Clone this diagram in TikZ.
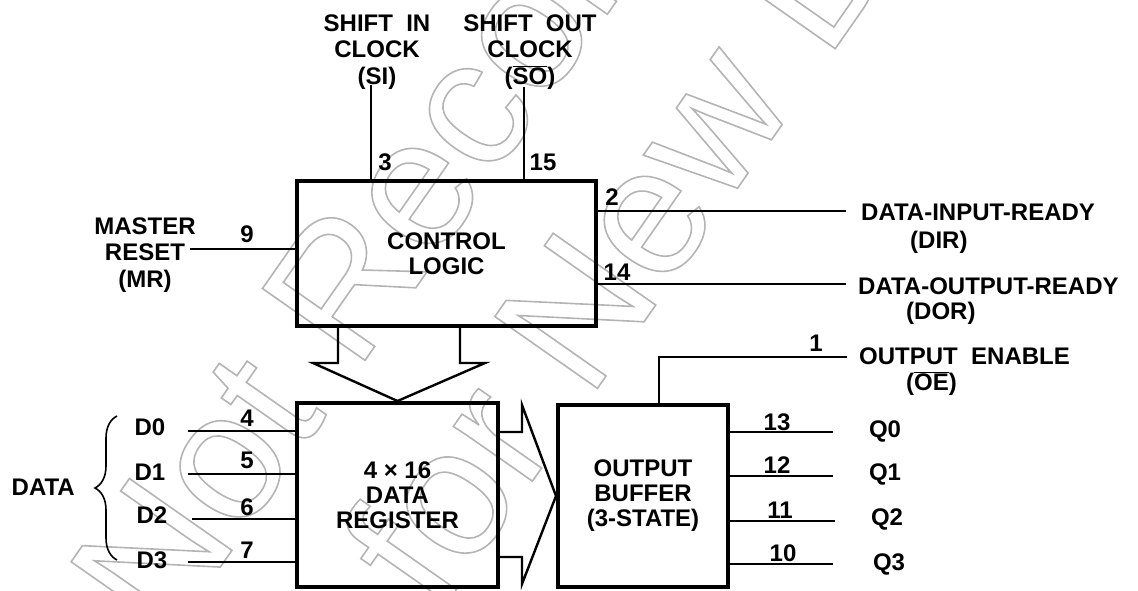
\documentclass[tikz,border=0pt]{standalone}
\usepackage{fontspec}
\setmainfont{Liberation Sans}
\newfontfamily\wmfont{Liberation Sans}
\usetikzlibrary{decorations.pathreplacing,calc}
\definecolor{wmgray}{RGB}{180,180,180}
\newcommand\lblsz{\fontsize{24}{26.5}\selectfont\bfseries}
\newcommand\boxsz{\fontsize{24}{25}\selectfont\bfseries}
\newcommand\wmsz{\wmfont\fontsize{182}{182}\selectfont}
\newcommand\ovl[1]{\ensuremath{\overline{\mbox{#1}}}}
\newcommand\outl[1]{\special{pdf:literal direct 1 Tr 1.6 w}#1\special{pdf:literal direct 0 Tr}}
\begin{document}
\begin{tikzpicture}[x=1pt,y=-1pt,
  box/.style={draw, line width=4pt, inner sep=0pt, align=center, font=\boxsz},
  lbl/.style={inner sep=0pt, align=center, font=\lblsz, anchor=north},
  one/.style={inner sep=0pt, font=\lblsz, text height=17.2pt, text depth=0pt},
  wire/.style={line width=1.8pt},
  fat/.style={line width=2.4pt, line join=miter},
  wm/.style={inner sep=0pt, rotate=55, anchor=base west, font=\wmsz, text=wmgray},
]
\useasboundingbox (0,0) rectangle (1138,590);

% watermark (outlined text)
\node[wm] (wm1) at (165,646) {\outl{Not Recommended}};
\node[wm] (wm2) at (438,616) {\outl{for New Design}};

% blocks
\node[box, minimum width=299pt, minimum height=145pt] (ctrl) at (446.5,253.5) {CONTROL\\LOGIC};
\node[box, minimum width=201pt, minimum height=184pt] (reg) at (397.5,495) {4 × 16\\DATA\\REGISTER};
\node[box, minimum width=170pt, minimum height=182pt] (buf) at (643,496) {OUTPUT\\BUFFER\\(3-STATE)};

% labels
\node[lbl] (si) at (377,14.4) {SHIFT\ \ IN\\CLOCK\\(SI)};
\node[lbl] (so) at (530,14.4) {SHIFT\ \ OUT\\CLOCK\\(\ovl{SO})};
\node[lbl] (mr) at (145,217.4) {MASTER\\RESET\\(MR)};
\node[one, anchor=west] (dir) at (861,212) {DATA-INPUT-READY};
\node[one, anchor=west] (dirb) at (910,240) {(DIR)};
\node[one, anchor=west] (dor) at (858,286) {DATA-OUTPUT-READY};
\node[one, anchor=west] (dorb) at (906,311) {(DOR)};
\node[one, anchor=west] (oe) at (859,356) {OUTPUT\ \ ENABLE};
\node[one, anchor=west] (oeb) at (906,382) {(\ovl{OE})};
\node[one, anchor=east] (data) at (75,487) {DATA};
\node[one] (d0) at (150,427) {D0};
\node[one] (d1) at (150,472) {D1};
\node[one] (d2) at (152,515) {D2};
\node[one] (d3) at (152,560) {D3};
\node[one] (q0) at (885,429) {Q0};
\node[one] (q1) at (885,472) {Q1};
\node[one] (q2) at (887,517) {Q2};
\node[one] (q3) at (889,562) {Q3};

% pin numbers
\node[one] (n3) at (385,162) {3};
\node[one] (n15) at (543,162) {15};
\node[one] (n9) at (247,234) {9};
\node[one] (n2) at (612,197) {2};
\node[one] (n14) at (617,272) {14};
\node[one] (n1) at (816,343) {1};
\node[one] (n4) at (247,418) {4};
\node[one] (n5) at (247,460) {5};
\node[one] (n6) at (247,507) {6};
\node[one] (n7) at (247,550) {7};
\node[one] (n13) at (777,422) {13};
\node[one] (n12) at (777,465) {12};
\node[one] (n11) at (780,510) {11};
\node[one] (n10) at (783,553) {10};

% wires
\coordinate (sie) at (371,85);
\coordinate (soe) at (524,87);
\coordinate (mre) at (190,249);
\coordinate (dire) at (846,211);
\coordinate (dore) at (846,284);
\coordinate (oee) at (847,357);
\coordinate (oec) at (659,357);
\draw[wire] (sie) -- (sie |- ctrl.north);
\draw[wire] (soe) -- (soe |- ctrl.north);
\draw[wire] (mre) -- (mre -| ctrl.west);
\draw[wire] (dire -| ctrl.east) -- (dire);
\draw[wire] (dore -| ctrl.east) -- (dore);
\draw[wire] (oee) -- (oec) -- (oec |- buf.north);

\coordinate (d0e) at (188,431);
\coordinate (d1e) at (188,474);
\coordinate (d2e) at (192,519);
\coordinate (d3e) at (188,562);
\foreach \c in {d0e,d1e,d2e,d3e} \draw[wire] (\c) -- (\c -| reg.west);

\coordinate (q0e) at (833,432);
\coordinate (q1e) at (833,476);
\coordinate (q2e) at (835,521);
\coordinate (q3e) at (833,564);
\foreach \c in {q0e,q1e,q2e,q3e} \draw[wire] (\c -| buf.east) -- (\c);

% brace
\coordinate (bt) at (117,416);
\coordinate (bb) at (117,560);
\draw[wire, line width=1.6pt, decorate, decoration={brace, amplitude=22pt}] (bb) -- (bt);

% fat arrow control -> register
\coordinate (a1) at (338,363);
\coordinate (a2) at (460,363);
\draw[fat] (a1 |- ctrl.south) -- (a1) -- (313,363) -- (reg.north) -- (485,363) -- (a2) -- (a2 |- ctrl.south);

% fat arrow register -> buffer
\coordinate (b1) at (522,432);
\coordinate (b2) at (522,557);
\draw[fat] (b1 -| reg.east) -- (b1) -- (522,405) -- (buf.west) -- (522,584) -- (b2) -- (b2 -| reg.east);
\end{tikzpicture}
\end{document}
